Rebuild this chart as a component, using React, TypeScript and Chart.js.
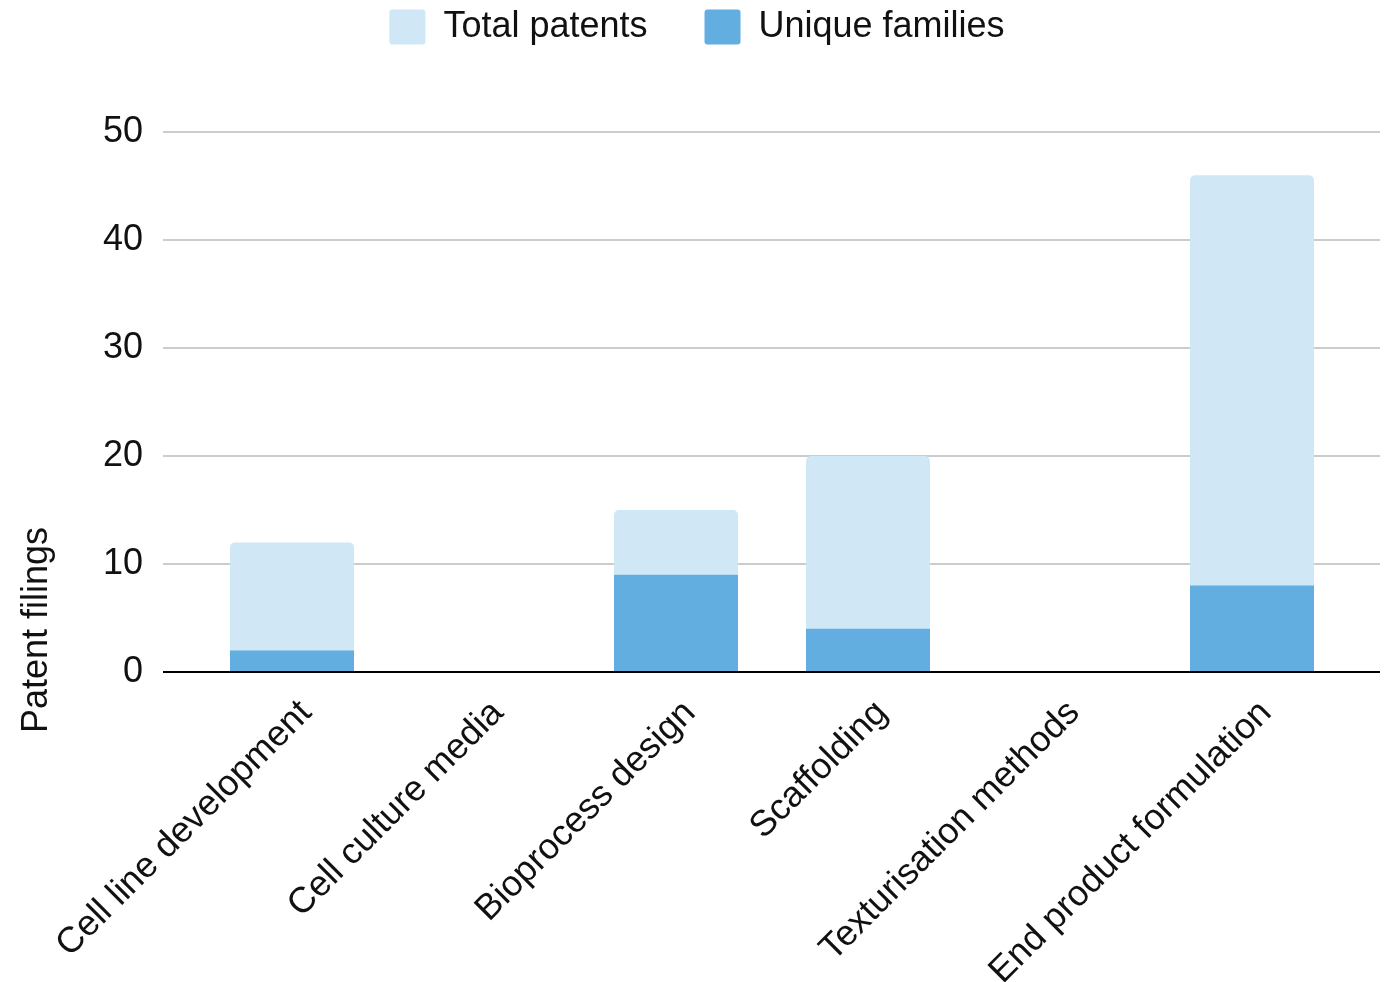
import React, { useEffect, useRef } from 'react';
import { Chart, registerables } from 'chart.js';

Chart.register(...registerables);

// ---------- data ----------
const categories = [
  'Cell line development',
  'Cell culture media',
  'Bioprocess design',
  'Scaffolding',
  'Texturisation methods',
  'End product formulation',
];
const totalPatents = [12, 0, 15, 20, 0, 46];
const uniqueFamilies = [2, 0, 9, 4, 0, 8];
const seriesLabels = ['Total patents', 'Unique families'];
const yMin = 0;
const yMax = 50;
const yStep = 10;
const yAxisTitle = 'Patent filings';

// ---------- style ----------
const FONT = '"Liberation Sans", Arial, Helvetica, sans-serif';
const FS = 36;
const TEXT = '#111111';
const LIGHT = '#d0e7f5';
const MID = '#63aee0';
const GRID = '#cccccc';

const W = 1394;
const H = 982;

const gridColor = (ctx: any) => (ctx.tick && ctx.tick.value === 0 ? '#000000' : GRID);

const legendSpacer = {
  id: 'legendSpacer',
  beforeInit(chart: any) {
    const legend = chart.legend;
    if (!legend) return;
    const orig = legend.fit;
    legend.fit = function () {
      orig.call(this);
      this.height = 180;
    };
  },
};

const yTitlePlugin = {
  id: 'yTitlePlugin',
  afterDraw(chart: any) {
    const ctx = chart.ctx;
    ctx.save();
    ctx.translate(37, 630);
    ctx.rotate(-Math.PI / 2);
    ctx.font = `${FS}px ${FONT}`;
    ctx.fillStyle = TEXT;
    ctx.textAlign = 'center';
    ctx.textBaseline = 'middle';
    ctx.fillText(yAxisTitle, 0, 0);
    ctx.restore();
  },
};

export default function App() {
  const ref = useRef<HTMLCanvasElement | null>(null);

  useEffect(() => {
    if (!ref.current) return;
    const chart = new Chart(ref.current, {
      type: 'bar',
      data: {
        labels: categories,
        datasets: [
          {
            label: seriesLabels[1],
            data: uniqueFamilies,
            backgroundColor: MID,
            borderWidth: 0,
            borderRadius: 0,
            grouped: false,
            barPercentage: 124 / 192,
            categoryPercentage: 1,
          } as any,
          {
            label: seriesLabels[0],
            data: totalPatents,
            backgroundColor: LIGHT,
            borderWidth: 0,
            borderRadius: { topLeft: 5, topRight: 5, bottomLeft: 0, bottomRight: 0 },
            grouped: false,
            barPercentage: 124 / 192,
            categoryPercentage: 1,
          } as any,
        ],
      },
      options: {
        responsive: false,
        animation: false,
        devicePixelRatio: 1,
        layout: { padding: { top: -48, left: 0, right: 0, bottom: 0 } },
        plugins: {
          tooltip: { enabled: false },
          legend: {
            display: true,
            position: 'top',
            align: 'center',
            reverse: true,
            labels: {
              font: { family: FONT, size: FS },
              color: TEXT,
              boxWidth: 36,
              boxHeight: 35,
              padding: 57,
              useBorderRadius: true,
              borderRadius: 3,
            },
          },
        },
        scales: {
          x: {
            type: 'category',
            offset: true,
            z: 1,
            grid: { display: false, drawTicks: false },
            border: { display: true, color: '#000000', width: 2 },
            ticks: {
              font: { family: FONT, size: FS },
              color: TEXT,
              minRotation: 45,
              maxRotation: 45,
              autoSkip: false,
              padding: 20,
              labelOffset: 14,
            },
            afterFit: (s: any) => {
              s.height = 310;
            },
          },
          y: {
            position: 'left',
            min: yMin,
            max: yMax,
            ticks: {
              stepSize: yStep,
              font: { family: FONT, size: FS },
              color: TEXT,
              padding: 20,
            },
            grid: { color: gridColor, lineWidth: 2, drawTicks: true, tickLength: 33 },
            border: { display: false },
            afterFit: (s: any) => {
              s.width = 196;
            },
          },
          y2: {
            position: 'right',
            min: yMin,
            max: yMax,
            ticks: { stepSize: yStep, display: false },
            grid: {
              color: gridColor,
              lineWidth: 2,
              drawTicks: true,
              tickLength: 32,
              drawOnChartArea: false,
            },
            border: { display: false },
            afterFit: (s: any) => {
              s.width = 46;
            },
          },
        },
      } as any,
      plugins: [legendSpacer, yTitlePlugin],
    });
    return () => chart.destroy();
  }, []);

  return (
    <div style={{ position: 'absolute', left: 0, top: 0, width: W, height: H, background: '#ffffff' }}>
      <canvas ref={ref} width={W} height={H} style={{ display: 'block', width: W, height: H }} />
    </div>
  );
}
